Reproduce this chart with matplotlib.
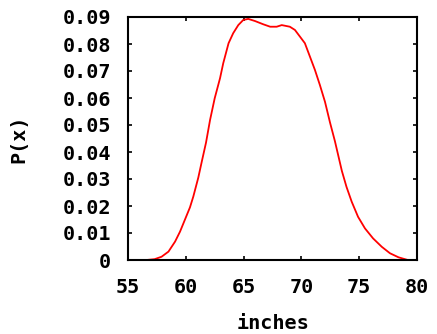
import numpy as np
import matplotlib
matplotlib.use('Agg')
import matplotlib.pyplot as plt

# values
inches = [56.6, 57.3, 57.9, 58.5, 59.07, 59.5, 59.93, 60.36, 60.65, 61.08,
          61.37, 61.75, 62.1, 62.5, 62.96, 63.24, 63.7, 64.1, 64.54, 64.97,
          65.4, 65.99, 66.7, 67.3, 67.86, 68.3, 69.0, 69.44, 69.88, 70.3,
          70.74, 71.17, 71.6, 72.04, 72.47, 72.9, 73.2, 73.5, 73.9, 74.35,
          74.9, 75.5, 76.2, 76.95, 77.66, 78.4, 79.2]
prob = [0.0, 0.0003, 0.0012, 0.0031, 0.0068, 0.0105, 0.0150, 0.0195, 0.0235,
        0.0305, 0.0362, 0.0435, 0.0519, 0.0599, 0.0673, 0.0729, 0.0803, 0.0840,
        0.0870, 0.0889, 0.0893, 0.0885, 0.0873, 0.0864, 0.0864, 0.0870,
        0.0864, 0.0852, 0.0827, 0.0803, 0.0753, 0.0704, 0.0648, 0.0586,
        0.0510, 0.0440, 0.0385, 0.0330, 0.0271, 0.0216, 0.0160, 0.0117,
        0.0080, 0.0049, 0.0025, 0.0010, 0.0]

xticks = [55, 60, 65, 70, 75, 80]
yticks = [0, 0.01, 0.02, 0.03, 0.04, 0.05, 0.06, 0.07, 0.08, 0.09]
ytick_labels = ['0'] + ['%.2f' % v for v in yticks[1:]]

plt.rcParams['font.family'] = 'DejaVu Sans Mono'
plt.rcParams['font.weight'] = 'bold'

fig = plt.figure(figsize=(4.37, 3.34), dpi=100)
ax = fig.add_axes([128 / 437, 1 - 260 / 334, (417 - 128) / 437, (260 - 17) / 334])

ax.plot(inches, prob, color='red', lw=1.3)

ax.set_xlim(55, 80)
ax.set_ylim(0, 0.09)
ax.set_xticks(xticks)
ax.set_xticklabels([str(v) for v in xticks], fontsize=14.5, fontweight='bold')
ax.set_yticks(yticks)
ax.set_yticklabels(ytick_labels, fontsize=14.5, fontweight='bold')
ax.tick_params(direction='in', top=True, right=True, length=3, width=1.2)
ax.tick_params(axis='x', pad=13)
ax.tick_params(axis='y', pad=12)

for s in ax.spines.values():
    s.set_linewidth(1.5)

ax.set_xlabel('inches', fontsize=14.5, fontweight='bold', labelpad=12)
ax.set_ylabel('P(x)', fontsize=14.5, fontweight='bold', labelpad=25)

fig.savefig('out.png', dpi=100)
